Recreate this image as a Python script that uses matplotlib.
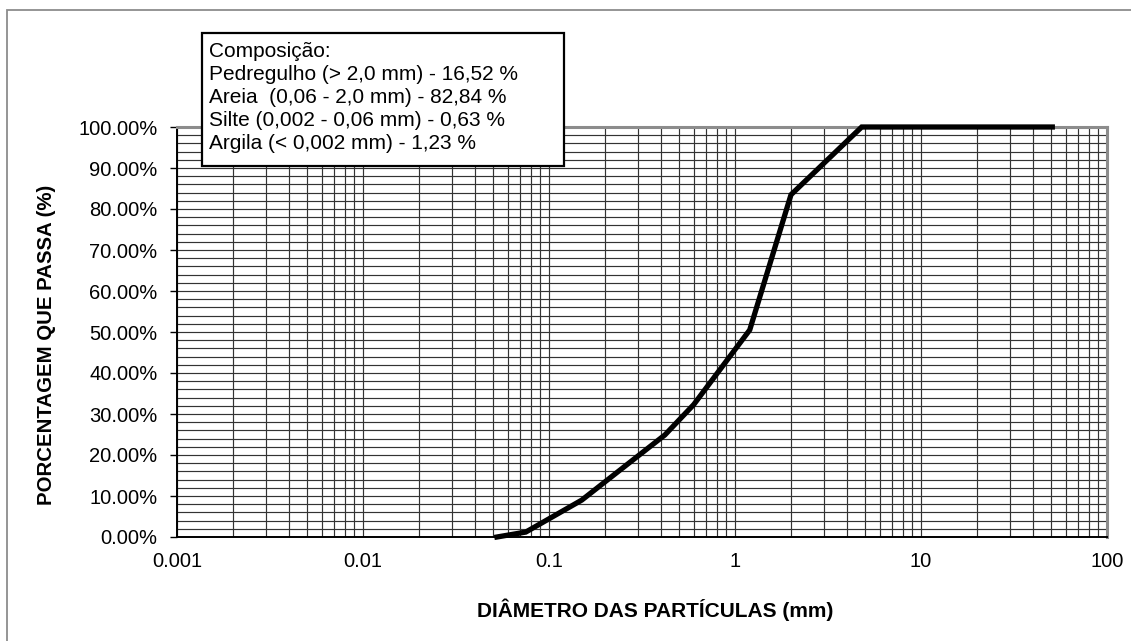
import matplotlib
matplotlib.use("Agg")
import matplotlib.pyplot as plt
import numpy as np
from matplotlib.ticker import FixedLocator, FuncFormatter, MultipleLocator
from matplotlib.patches import Rectangle

plt.rcParams["font.family"] = ["Liberation Sans", "DejaVu Sans"]

# Sieve / sedimentation results: diameter (mm) vs percent passing
diametro = [50.8, 38.1, 25.4, 19.1, 9.5, 4.8, 2.0, 1.2, 0.6, 0.42, 0.25, 0.15, 0.075, 0.0525]
passa = [100.0, 100.0, 100.0, 100.0, 100.0, 100.0, 83.48, 50.5, 32.3, 24.9, 16.9, 9.0, 1.2, 0.0]

composicao = [
    "Composição:",
    "Pedregulho (> 2,0 mm) - 16,52 %",
    "Areia  (0,06 - 2,0 mm) - 82,84 %",
    "Silte (0,002 - 0,06 mm) - 0,63 %",
    "Argila (< 0,002 mm) - 1,23 %",
]

x_ticks = [0.001, 0.01, 0.1, 1, 10, 100]
y_ticks = np.arange(0, 101, 10)

W, H = 1131, 641
fig = plt.figure(figsize=(W / 100, H / 100), dpi=100)
ax = fig.add_axes([177 / W, 1 - 537 / H, (1107 - 177) / W, (537 - 127) / H])

ax.plot(diametro, passa, color="black", linewidth=3.8, solid_joinstyle="miter",
        zorder=5, clip_on=False)

ax.set_xscale("log")
ax.set_xlim(0.001, 100)
ax.set_ylim(0, 100)

# minor x lines at 2..9 of every decade
minors = [m * 10.0 ** e for e in range(-3, 2) for m in range(2, 10)]
ax.xaxis.set_major_locator(FixedLocator(x_ticks))
ax.xaxis.set_minor_locator(FixedLocator(minors))
ax.xaxis.set_major_formatter(FuncFormatter(lambda v, p: "%g" % v))
ax.yaxis.set_major_locator(FixedLocator(y_ticks))
ax.yaxis.set_minor_locator(MultipleLocator(2))
ax.yaxis.set_major_formatter(FuncFormatter(lambda v, p: "%.2f%%" % v))

ax.grid(which="both", color="#333333", linewidth=0.85)
ax.set_axisbelow(True)

ax.tick_params(axis="x", which="both", length=0, pad=11, labelsize=14.5)
ax.tick_params(axis="y", which="major", length=5, width=1, direction="out",
               pad=9, labelsize=14.5)
ax.tick_params(axis="y", which="minor", length=0)

for s in ("left", "bottom"):
    ax.spines[s].set_color("black")
    ax.spines[s].set_linewidth(1.4)
for s in ("top", "right"):
    ax.spines[s].set_color("#8c8c8c")
    ax.spines[s].set_linewidth(2.2)

ax.set_xlabel("DIÂMETRO DAS PARTÍCULAS (mm)", fontsize=15, fontweight="bold")
ax.set_ylabel("PORCENTAGEM QUE PASSA (%)", fontsize=14.7, fontweight="bold",
              va="center")
ax.yaxis.set_label_coords((47 - 177) / (1107 - 177), (537 - 345) / (537 - 127))
ax.xaxis.set_label_coords((655 - 177) / (1107 - 177), -(610 - 537) / (537 - 127))
ax.xaxis.label.set_va("center")

# composition box
box = Rectangle((202 / W, 1 - 166 / H), (564 - 202) / W, (166 - 33) / H,
                transform=fig.transFigure, facecolor="white", edgecolor="black",
                linewidth=1.6, zorder=10)
fig.patches.append(box)
fig.text(209 / W, 1 - 42 / H, "\n".join(composicao), fontsize=15,
         va="top", ha="left", linespacing=1.26, zorder=11)

# chart area border
fig.patches.append(Rectangle((7 / W, -0.1), 1.2, 1 - 10 / H + 0.1,
                             transform=fig.transFigure, facecolor="none",
                             edgecolor="#8c8c8c", linewidth=1.3))

fig.savefig("out.png", dpi=100)
